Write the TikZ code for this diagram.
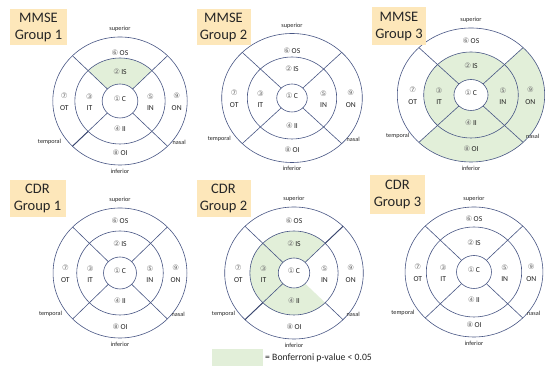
\documentclass[tikz,border=0pt]{standalone}
\usepackage{fontspec}
\setmainfont{Carlito}
\newfontfamily\circfont{DejaVu Sans}
\definecolor{ln}{RGB}{72,86,132}
\definecolor{grn}{RGB}{226,239,217}
\definecolor{tanbox}{RGB}{253,231,186}
\definecolor{txt}{RGB}{35,35,35}
\definecolor{num}{RGB}{115,115,115}
\tikzset{
  ring/.style={draw=ln, line width=0.6pt},
  ringdark/.style={draw=ln!85!black, line width=0.85pt},
  sect/.style={fill=grn},
  dirlab/.style={font=\fontsize{6.2}{7}\selectfont, text=txt, inner sep=0pt},
  reglab/.style={font=\fontsize{7.6}{11.5}\selectfont, text=txt, inner sep=0pt, align=center},
  titlebox/.style={fill=tanbox, align=center, font=\fontsize{14.5}{17}\selectfont, text=black!85, inner sep=0pt},
}
\newcommand\cn[1]{{\circfont\color{num}\fontsize{7.5}{7.5}\selectfont #1}}
\newcommand\sector[4]{\fill[sect] (#1:#4) arc[start angle=#1, end angle=#2, radius=#4] -- (#2:#3) arc[start angle=#2, end angle=#1, radius=#3] -- cycle;}
% label offsets of the outer top / bottom sectors (set before each chart)
\def\oyT{48}\def\oyB{52}
% #1 name, #2 cx, #3 cy, #4 xscale, #5 outer R, #6 middle R, #7 inner R, #8 fills, #9 inner-line angles
\newcommand\eyechart[9]{%
  \begin{scope}[shift={(#2,#3)}]
    \def\rO{#5}\def\rM{#6}\def\rI{#7}%
    \begin{scope}[xscale=#4]
      #8
      \draw[ring] (0,0) circle[radius=#5];
      \draw[ring] (0,0) circle[radius=#6];
      \draw[ring] (0,0) circle[radius=#7];
      \foreach \a in {45,135,225,315} \draw[ring] (\a:#6) -- (\a:#5);
      \foreach \a in {#9} \draw[ring] (\a:#7) -- (\a:#6);
    \end{scope}
    \node[dirlab] (#1-sup) at (0,{#5+8}) {superior};
    \node[dirlab] (#1-inf) at (0,{-#5-6}) {inferior};
    \node[dirlab, anchor=east] (#1-tem) at ({-56*#4},-41) {temporal};
    \node[dirlab, anchor=west] (#1-nas) at ({50*#4},-41) {nasal};
    \node[reglab] (#1-c) at (0,2) {\cn{①}\,C};
    \node[reglab] (#1-is) at (0,29) {\cn{②}\,IS};
    \node[reglab] (#1-os) at (0,\oyT) {\cn{⑥}\,OS};
    \node[reglab] (#1-ii) at (0,-28) {\cn{④}\,II};
    \node[reglab] (#1-oi) at (0,-\oyB) {\cn{⑧}\,OI};
    \node[reglab] (#1-it) at ({-29*#4},-1) {\cn{③}\\IT};
    \node[reglab] (#1-in) at ({29*#4},-1) {\cn{⑤}\\IN};
    \node[reglab] (#1-ot) at ({-53*#4},-1) {\cn{⑦}\\OT};
    \node[reglab] (#1-on) at ({54*#4},-1) {\cn{⑨}\\ON};
  \end{scope}}
\begin{document}
\begin{tikzpicture}[x=1pt, y=1pt]
\useasboundingbox (0,0) rectangle (550,374);
\fill[white] (0,0) rectangle (550,374);

% charts
\def\oyT{48}\def\oyB{52}
\eyechart{m1}{120}{273}{1.05}{64}{43}{17}{\sector{45}{135}{\rI}{\rM}}{45,135,225,315}
\begin{scope}[shift={(120,273)}, xscale=1.05]
  \draw[ringdark] (225:43) -- (225:64);
\end{scope}
\def\oyT{47}\def\oyB{52}
\eyechart{m2}{292}{276}{1.09}{64.5}{41}{14}{}{45,135,225,315}
\def\oyT{54}\def\oyB{54}
\eyechart{m3}{471}{279}{1.1}{67}{43}{15.5}{\sector{0}{360}{\rI}{\rM}\sector{-135}{45}{\rM}{\rO}}{45,135,225,315}
\def\oyT{52}\def\oyB{54}
\eyechart{c1}{120}{101}{1.03}{65}{42}{16}{}{45,135,225,315}
\eyechart{c2}{294}{101}{1.05}{66}{42}{15}{\sector{45}{315}{\rI}{\rM}}{45,135,225}
\begin{scope}[shift={(294,101)}, xscale=1.05]
  \draw[ringdark] (45:42) -- (45:66);
  \draw[ringdark] (225:42) -- (225:66);
\end{scope}
\def\oyT{53}\def\oyB{53}
\eyechart{c3}{474}{102}{1.06}{65}{45}{16.5}{}{45,135,225,315}

% titles
\node[titlebox, minimum width=57, minimum height=36] (tm1) at (38.5,347) {MMSE\\Group 1};
\node[titlebox, minimum width=54, minimum height=36] (tm2) at (223.5,347) {MMSE\\Group 2};
\node[titlebox, minimum width=54, minimum height=38] (tm3) at (399,348) {MMSE\\Group 3};
\node[titlebox, minimum width=56, minimum height=37] (tc1) at (37.5,175.5) {CDR\\Group 1};
\node[titlebox, minimum width=54, minimum height=37] (tc2) at (223.5,175.5) {CDR\\Group 2};
\node[titlebox, minimum width=55, minimum height=39] (tc3) at (397.5,179.5) {CDR\\Group 3};

% legend
\node[fill=grn, minimum width=51, minimum height=17, inner sep=0pt] (legbox) at (237.5,16.5) {};
\node[anchor=west, inner sep=0pt, font=\fontsize{9.7}{11}\selectfont, text=txt] (legtext) at (265,16.5) {= Bonferroni p-value < 0.05};
\end{tikzpicture}
\end{document}
